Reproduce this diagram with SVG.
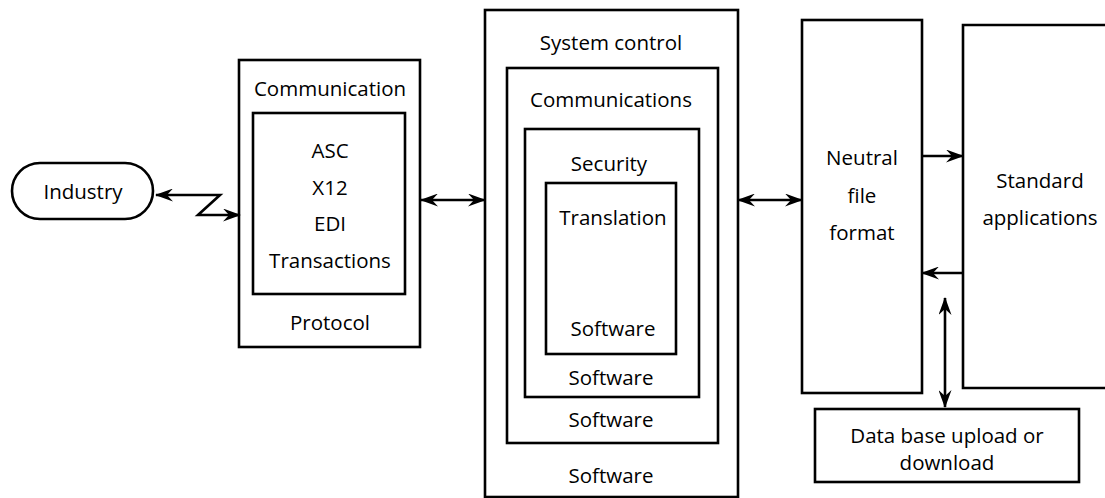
<svg xmlns="http://www.w3.org/2000/svg" width="1105" height="498" viewBox="0 0 1105 498">
  <style>
    .box { fill: none; stroke: #000; stroke-width: 2.6; }
    .link { fill: none; stroke: #000; stroke-width: 2.6; }
    text { font-family: "Open Sans", "Liberation Sans", sans-serif; font-size: 20.5px; fill: #000; text-anchor: middle; dominant-baseline: central; }
  </style>
  <defs>
    <marker id="arrow" viewBox="0 0 18 13" refX="17" refY="6.5" markerWidth="18" markerHeight="13" markerUnits="userSpaceOnUse" orient="auto-start-reverse">
      <path d="M0,0 L18,6.5 L0,13 L6,6.5 z" fill="#000"/>
    </marker>
  </defs>
  <rect width="1105" height="498" fill="#fff"/>

  <!-- External party -->
  <g id="industry">
    <rect class="box" x="12" y="163" width="141" height="56" rx="28" ry="28"/>
    <text x="83" y="191">Industry</text>
  </g>

  <!-- Communication / protocol layer -->
  <g id="communication">
    <rect class="box" x="239" y="60" width="181" height="287"/>
    <text x="330" y="88">Communication</text>
    <text x="330" y="322">Protocol</text>
  </g>
  <g id="edi-transactions">
    <rect class="box" x="253" y="113" width="152" height="181"/>
    <text x="330" y="150">ASC</text>
    <text x="330" y="187">X12</text>
    <text x="330" y="223">EDI</text>
    <text x="330" y="260">Transactions</text>
  </g>

  <!-- Nested software layers -->
  <g id="system-control">
    <rect class="box" x="485" y="10" width="253" height="487"/>
    <text x="611" y="42">System control</text>
    <text x="611" y="475">Software</text>
  </g>
  <g id="communications">
    <rect class="box" x="507" y="68" width="211" height="375"/>
    <text x="611" y="99">Communications</text>
    <text x="611" y="419">Software</text>
  </g>
  <g id="security">
    <rect class="box" x="525" y="129" width="174" height="268"/>
    <text x="609" y="163">Security</text>
    <text x="611" y="377">Software</text>
  </g>
  <g id="translation">
    <rect class="box" x="546" y="183" width="130" height="171"/>
    <text x="613" y="217">Translation</text>
    <text x="613" y="328">Software</text>
  </g>

  <!-- Output side -->
  <g id="neutral-file-format">
    <rect class="box" x="802" y="20" width="120" height="373"/>
    <text x="862" y="157">Neutral</text>
    <text x="862" y="195">file</text>
    <text x="862" y="232">format</text>
  </g>
  <g id="standard-applications">
    <path class="box" d="M1110,25 H963 V388 H1110"/>
    <text x="1040" y="180">Standard</text>
    <text x="1040" y="217">applications</text>
  </g>
  <g id="database">
    <rect class="box" x="815" y="409" width="264" height="73"/>
    <text x="947" y="435">Data base upload or</text>
    <text x="947" y="462">download</text>
  </g>

  <!-- Connectors -->
  <g id="connectors">
    <path class="link" d="M156,195 H220 L198,215 H240" marker-start="url(#arrow)" marker-end="url(#arrow)"/>
    <line class="link" x1="421" y1="200" x2="485" y2="200" marker-start="url(#arrow)" marker-end="url(#arrow)"/>
    <line class="link" x1="738" y1="200" x2="802" y2="200" marker-start="url(#arrow)" marker-end="url(#arrow)"/>
    <line class="link" x1="922" y1="156" x2="963" y2="156" marker-end="url(#arrow)"/>
    <line class="link" x1="963" y1="273" x2="922" y2="273" marker-end="url(#arrow)"/>
    <line class="link" x1="945" y1="298" x2="945" y2="407" marker-start="url(#arrow)" marker-end="url(#arrow)"/>
  </g>
</svg>
